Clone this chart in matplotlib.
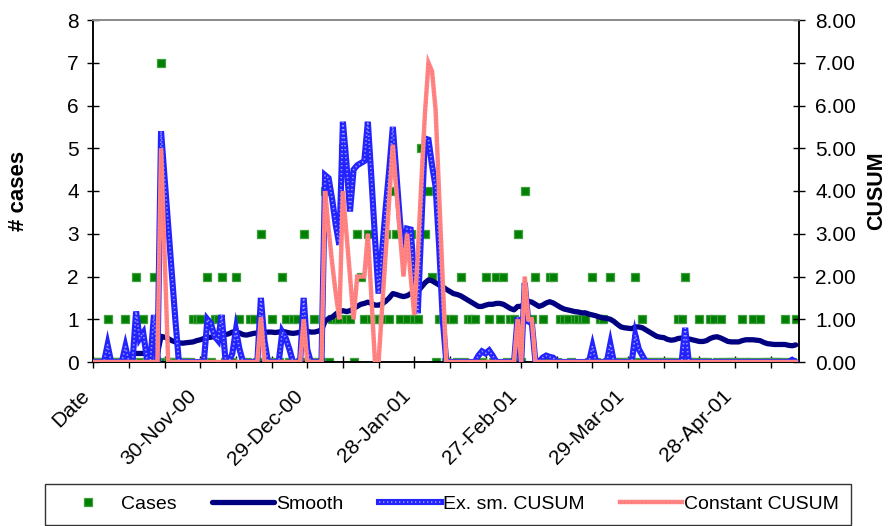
import numpy as np
import matplotlib
matplotlib.use('Agg')
import matplotlib.pyplot as plt
from matplotlib.legend_handler import HandlerTuple

plt.rcParams['font.family'] = ['Liberation Sans', 'DejaVu Sans']

# ---------------- data ----------------
tick_dates = ["Date", "30-Nov-00", "29-Dec-00", "28-Jan-01",
              "27-Feb-01", "29-Mar-01", "28-Apr-01"]

cases = [
    0, 0, 0, 0, 1, 0, 0, 0, 0, 1,
    0, 0, 2, 0, 1, 0, 0, 2, 0, 7,
    0, 0, 0, 0, 0, 0, 0, 0, 1, 1,
    1, 0, 2, 0, 1, 1, 2, 0, 0, 0,
    2, 1, 0, 0, 1, 1, 0, 3, 0, 0,
    1, 0, 0, 2, 1, 0, 1, 1, 0, 3,
    0, 0, 1, 0, 0, 4, 0, 1, 1, 1,
    5, 1, 1, 0, 3, 2, 1, 3, 1, 1,
    1, 1, 3, 1, 4, 3, 1, 3, 1, 3,
    1, 1, 5, 3, 4, 2, 0, 1, 1, 0,
    1, 1, 0, 2, 0, 1, 1, 1, 0, 0,
    2, 1, 0, 2, 1, 2, 0, 1, 1, 3,
    0, 4, 1, 1, 2, 0, 1, 0, 2, 2,
    0, 1, 1, 1, 0, 1, 1, 1, 1, 0,
    2, 0, 1, 1, 0, 2, 0, 0, 0, 0,
    0, 0, 2, 0, 1, 0, 0, 0, 0, 0,
    0, 0, 0, 0, 1, 1, 2, 0, 0, 0,
    1, 0, 0, 1, 1, 0, 1, 0, 0, 0,
    0, 0, 1, 0, 0, 1, 0, 1, 0, 0,
    0, 0, 0, 0, 1, 0, 0, 1,
]

smooth = [
    None, None, None, None, None, None, None, None, None, None,
    None, 0.2, 0.2, 0.2, 0.2, 0.2, 0.2, 0.2, 0.2, 0.6,
    0.58, 0.55, 0.5, 0.47, 0.45, 0.44, 0.45, 0.46, 0.47, 0.5,
    0.52, 0.55, 0.57, 0.58, 0.6, 0.62, 0.63, 0.64, 0.66, 0.7,
    0.7, 0.68, 0.64, 0.63, 0.65, 0.67, 0.68, 0.7, 0.69, 0.7,
    0.7, 0.69, 0.7, 0.72, 0.7, 0.68, 0.67, 0.68, 0.7, 0.73,
    0.72, 0.7, 0.7, 0.72, 0.75, 0.95, 1.02, 1.05, 1.12, 1.18,
    1.2, 1.18, 1.2, 1.25, 1.3, 1.35, 1.37, 1.4, 1.37, 1.33,
    1.33, 1.36, 1.42, 1.5, 1.6, 1.58, 1.55, 1.53, 1.55, 1.6,
    1.6, 1.65, 1.75, 1.85, 1.92, 1.9, 1.85, 1.8, 1.76, 1.7,
    1.65, 1.6, 1.58, 1.55, 1.5, 1.45, 1.4, 1.35, 1.3, 1.3,
    1.33, 1.35, 1.35, 1.37, 1.37, 1.35, 1.3, 1.25, 1.22, 1.3,
    1.3, 1.38, 1.42, 1.4, 1.35, 1.3, 1.33, 1.38, 1.41, 1.38,
    1.33, 1.28, 1.24, 1.22, 1.2, 1.18, 1.17, 1.15, 1.15, 1.12,
    1.1, 1.08, 1.05, 1.03, 1.02, 1.0, 0.95, 0.88, 0.82, 0.8,
    0.79, 0.78, 0.82, 0.82, 0.8, 0.75, 0.7, 0.65, 0.6, 0.58,
    0.57, 0.53, 0.51, 0.52, 0.55, 0.56, 0.56, 0.54, 0.52, 0.5,
    0.48, 0.48, 0.5, 0.55, 0.58, 0.59, 0.56, 0.52, 0.48, 0.47,
    0.47, 0.47, 0.5, 0.52, 0.52, 0.52, 0.51, 0.5, 0.46, 0.43,
    0.42, 0.41, 0.41, 0.41, 0.41, 0.39, 0.38, 0.4,
]

ex_sm_cusum = [
    0, 0, 0, 0, 0.4, 0, 0, 0, 0, 0.36,
    0, 0, 1.18, 0.55, 0.68, 0.1, 0, 1.1, 0, 5.4,
    4.3, 3.2, 2.1, 1.0, 0, 0, 0, 0, 0, 0,
    0, 0, 1.0, 0.9, 0.6, 0.5, 1.1, 0.1, 0, 0.2,
    0.75, 0.3, 0, 0, 0, 0, 0, 1.5, 0.5, 0,
    0, 0, 0, 0.7, 0.55, 0.3, 0, 0, 0, 1.5,
    0.3, 0, 0, 0, 0, 4.37, 4.3, 3.8, 3.2, 2.74,
    5.62, 4.65, 3.52, 4.5, 4.6, 4.65, 4.7, 5.62, 4.3, 2.9,
    1.6, 2.6, 3.6, 4.5, 5.5, 4.4, 3.3, 2.5, 3.12, 3.1,
    2.0, 1.14, 3.2, 5.23, 5.2, 4.6, 4.1, 2.7, 1.0, 0,
    0, 0, 0, 0, 0, 0, 0, 0, 0.15, 0.25,
    0.2, 0.27, 0.15, 0, 0, 0, 0, 0, 0, 1.05,
    0, 1.85, 0.95, 0.9, 0, 0, 0.1, 0.15, 0.12, 0.1,
    0, 0, 0, 0, 0, 0, 0, 0, 0, 0,
    0.36, 0, 0, 0, 0, 0.42, 0, 0, 0, 0,
    0, 0, 0.63, 0.3, 0.15, 0, 0, 0, 0, 0,
    0, 0, 0, 0, 0, 0, 0.8, 0, 0, 0,
    0, 0, 0, 0, 0, 0, 0, 0, 0, 0,
    0, 0, 0, 0, 0, 0, 0, 0, 0, 0,
    0, 0, 0, 0, 0, 0, 0.05, 0,
]

constant_cusum = [
    0, 0, 0, 0, 0, 0, 0, 0, 0, 0,
    0, 0, 0, 0, 0, 0, 0, 0, 0, 5.0,
    2.5, 0, 0, 0, 0, 0, 0, 0, 0, 0,
    0, 0, 0, 0, 0, 0, 0, 0, 0, 0,
    0, 0, 0, 0, 0, 0, 0, 1.05, 0, 0,
    0, 0, 0, 0, 0, 0, 0, 0, 0, 1.0,
    0, 0, 0, 0, 0, 4.0, 3.1, 2.3, 1.6, 1.0,
    4.0, 3.0, 2.0, 1.0, 2.0, 2.0, 2.0, 3.0, 1.5, 0,
    0, 1.27, 2.54, 3.8, 5.08, 4.0, 3.0, 2.0, 3.0, 2.0,
    1.1, 2.5, 4.2, 5.8, 7.0, 6.8, 5.9, 3.9, 1.9, 0,
    0, 0, 0, 0, 0, 0, 0, 0, 0, 0,
    0, 0, 0, 0, 0, 0, 0, 0, 0, 1.0,
    0, 2.0, 1.0, 1.0, 0, 0, 0, 0, 0, 0,
    0, 0, 0, 0, 0, 0, 0, 0, 0, 0,
    0, 0, 0, 0, 0, 0, 0, 0, 0, 0,
    0, 0, 0, 0, 0, 0, 0, 0, 0, 0,
    0, 0, 0, 0, 0, 0, 0, 0, 0, 0,
    0, 0, 0, 0, 0, 0, 0, 0, 0, 0,
    0, 0, 0, 0, 0, 0, 0, 0, 0, 0,
    0, 0, 0, 0, 0, 0, 0, 0,
]

# ---------------- figure ----------------
W, H = 890, 526
fig = plt.figure(figsize=(W / 100, H / 100), dpi=100)
L, R, T, B = 93.3, 799.3, 20, 362
ax = fig.add_axes([L / W, 1 - B / H, (R - L) / W, (B - T) / H])
ax2 = ax.twinx()

n = len(cases)
x = np.arange(n)
sm = np.array(smooth, dtype=float)

h_cases, = ax.plot(x, cases, ls='none', marker='s', ms=6.0,
                   mfc='#008000', mec='#3f9f3f', mew=0.9, zorder=2)
h_smooth, = ax.plot(x, sm, color='#000080', lw=3.8,
                    solid_joinstyle='round', solid_capstyle='round', zorder=3)

b1, = ax2.plot(x, ex_sm_cusum, color='#2323ff', lw=4.4,
               solid_joinstyle='miter', zorder=3)
b2, = ax2.plot(x, ex_sm_cusum, color='#9a9aff', lw=1.2,
               dashes=(0.8, 1.6), zorder=3.1)
p1, = ax2.plot(x, constant_cusum, color='#ff8585', lw=3.2,
               solid_joinstyle='miter', zorder=4)
p2, = ax2.plot(x, constant_cusum, color='#ff6a6a', lw=0.9,
               dashes=(0.8, 2.0), zorder=4.1)

# ---------------- axes ----------------
ax.set_xlim(0, 198)
for a in (ax, ax2):
    a.set_ylim(0, 8)
    a.set_yticks(range(9))
    a.patch.set_visible(False)

major = list(range(0, 198, 10))
labels = [tick_dates[i // 30] if i % 30 == 0 else '' for i in major]
ax.set_xticks(major)
ax.set_xticklabels(labels, rotation=45, ha='right', fontsize=15)
ax.tick_params(axis='x', direction='inout', length=9, width=1,
               pad=13, colors='black')
ax.tick_params(axis='y', direction='inout', length=9, width=1,
               pad=6, labelsize=15)
ax2.set_yticklabels([f"{v:.2f}" for v in range(9)])
ax2.tick_params(axis='y', direction='inout', length=9, width=1,
                pad=7, labelsize=15)

for a in (ax, ax2):
    a.spines['top'].set_color('#8c8c8c')
    a.spines['top'].set_linewidth(1.3)
    for s in ('left', 'right', 'bottom'):
        a.spines[s].set_color('black')
        a.spines[s].set_linewidth(1.1)

ax.set_ylabel('# cases', fontsize=16, fontweight='bold')
ax.yaxis.label.set_va('center')
ax.yaxis.set_label_coords((18 - L) / (R - L), 0.5)
ax2.set_ylabel('CUSUM', fontsize=15.5, fontweight='bold', rotation=90)
ax2.yaxis.label.set_va('center')
ax2.yaxis.set_label_coords((877 - L) / (R - L), 0.5)

# ---------------- legend ----------------
leg = fig.legend(handles=[h_cases, h_smooth, (b1, b2), (p1, p2)],
                 labels=['Cases', 'Smooth', 'Ex. sm. CUSUM', 'Constant CUSUM'],
                 handler_map={tuple: HandlerTuple(ndivide=1)},
                 ncol=4, loc='upper left',
                 bbox_to_anchor=(45 / W, 1 - 489 / H, (851 - 45) / W, 0.01),
                 mode='expand', frameon=True, fancybox=False,
                 edgecolor='black', fontsize=14, handlelength=3.2,
                 handletextpad=0.12, columnspacing=0.8, borderaxespad=0,
                 borderpad=0.6, numpoints=1)
leg.get_frame().set_linewidth(1.0)

fig.savefig('out.png', dpi=100)
